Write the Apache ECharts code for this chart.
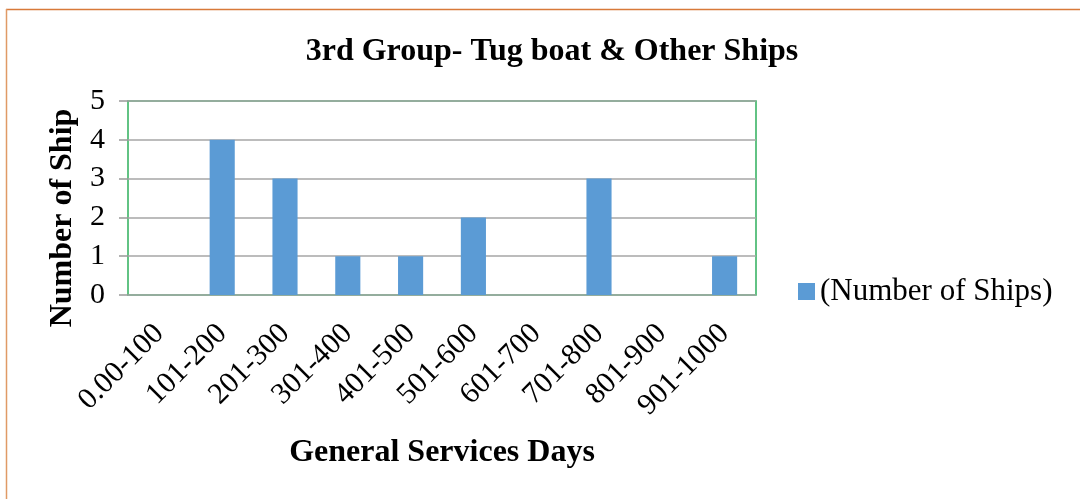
<!DOCTYPE html>
<html>
<head>
<meta charset="utf-8">
<script src="https://cdn.jsdelivr.net/npm/echarts@6/dist/echarts.min.js"></script>
<style>
  html, body { margin: 0; padding: 0; background: #fff; }
  #chart { width: 1080px; height: 499px; }
</style>
</head>
<body>
<div id="chart"></div>
<script>
// Service-day ranges and ship counts per range
const categories = ['0.00-100', '101-200', '201-300', '301-400', '401-500',
                    '501-600', '601-700', '701-800', '801-900', '901-1000'];
const shipCounts = [0, 4, 3, 1, 1, 2, 0, 3, 0, 1];
const yTicks = [0, 1, 2, 3, 4, 5];

const serif = '"Liberation Serif", "Times New Roman", serif';

const chart = echarts.init(document.getElementById('chart'));
chart.setOption({
  backgroundColor: '#ffffff',
  animation: false,
  title: {
    text: '3rd Group- Tug boat & Other Ships',
    left: 547,
    top: 31,
    textAlign: 'center',
    textStyle: { fontFamily: serif, fontSize: 32, fontWeight: 'bold', color: '#000' }
  },
  legend: {
    left: 798,
    top: 276,
    padding: 0,
    itemWidth: 17,
    itemHeight: 17,
    itemGap: 6,
    icon: 'rect',
    textStyle: { fontFamily: serif, fontSize: 31, color: '#000', padding: [0, 0, 0, 0] },
    data: ['(Number of Ships)']
  },
  grid: {
    left: 128,
    right: 324,
    top: 101,
    bottom: 204,
    show: true,
    borderColor: '#2fb05c',
    borderWidth: 1.5,
    containLabel: false
  },
  xAxis: {
    type: 'category',
    data: categories,
    name: 'General Services Days',
    nameLocation: 'middle',
    nameGap: 142,
    nameTextStyle: { fontFamily: serif, fontSize: 32, fontWeight: 'bold', color: '#000' },
    axisLine: { show: false },
    axisTick: { show: false },
    axisLabel: {
      rotate: 45,
      margin: 34,
      interval: 0,
      fontFamily: serif,
      fontSize: 30,
      color: '#000'
    }
  },
  yAxis: {
    type: 'value',
    min: 0,
    max: 5,
    interval: 1,
    name: 'Number of Ship',
    nameLocation: 'middle',
    nameGap: 49,
    nameTextStyle: {
      fontFamily: serif, fontSize: 32, fontWeight: 'bold', color: '#000',
      padding: [0, 40, 0, 0]
    },
    axisLine: { show: false },
    axisTick: { show: true, length: 9, lineStyle: { color: '#999999', width: 1.5 } },
    splitLine: { show: true, lineStyle: { color: '#a6a6a6', width: 1.5 } },
    axisLabel: {
      margin: 23,
      fontFamily: serif,
      fontSize: 30,
      color: '#000',
      formatter: v => (yTicks.includes(v) ? String(v) : '')
    }
  },
  series: [{
    name: '(Number of Ships)',
    type: 'bar',
    data: shipCounts,
    barWidth: '40%',
    itemStyle: { color: '#5b9bd5' }
  }],
  graphic: [
    {
      type: 'line',
      shape: { x1: 6, y1: 9.5, x2: 1080, y2: 9.5 },
      style: { stroke: '#d8793a', lineWidth: 1.5 }
    },
    {
      type: 'line',
      shape: { x1: 6.5, y1: 9, x2: 6.5, y2: 499 },
      style: { stroke: '#e09a66', lineWidth: 1.5 }
    }
  ]
});
</script>
</body>
</html>
